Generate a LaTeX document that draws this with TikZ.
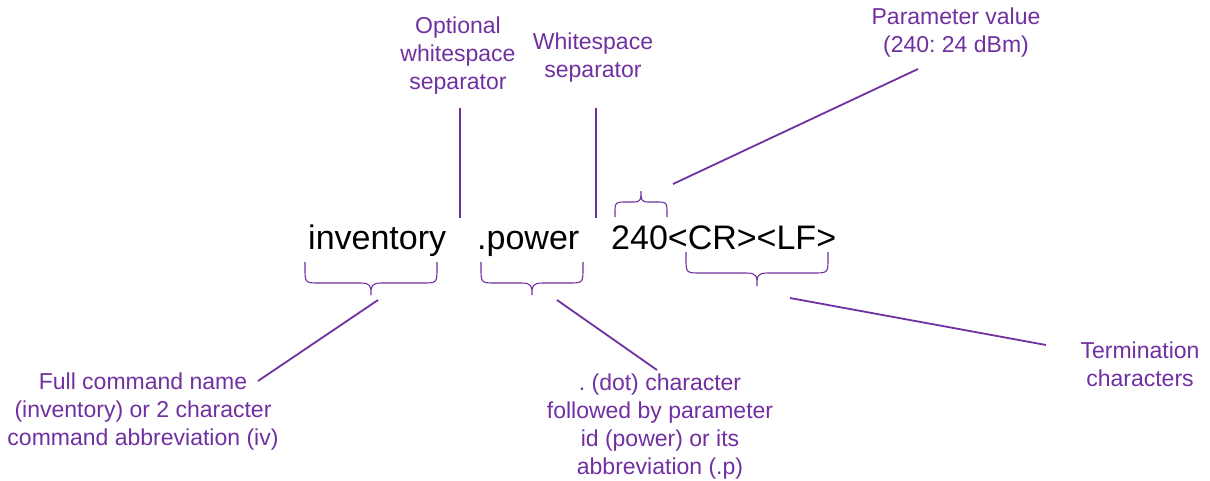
\documentclass[tikz,border=0pt]{standalone}
\usepackage{fontspec}
\setmainfont{Liberation Sans}
\definecolor{purp}{HTML}{7030A0}
\begin{document}
\frenchspacing
\begin{tikzpicture}[x=1pt,y=-1pt,
  maintext/.style={anchor=base west,inner sep=0pt,font=\fontsize{34}{40}\selectfont,text=black},
  lbl/.style={align=center,inner sep=0pt,text=purp,font=\fontsize{23}{28}\selectfont},
  conn/.style={draw=purp,line width=1.8pt},
  bracestyle/.style={draw=purp,line width=1.1pt}]
\useasboundingbox (0,0) rectangle (1210,480);

% main command text
\node[maintext] (inv) at (308,249) {inventory};
\node[maintext] (pow) at (477,249) {.power};
\node[maintext] (val) at (611,249) {240<CR><LF>};

% labels
\node[lbl] (opt) at (458,56) {Optional\\whitespace\\separator};
\node[lbl] (ws) at (593,58) {Whitespace\\separator};
\node[lbl] (pv) at (956,33) {Parameter value\\(240: 24 dBm)};
\node[lbl] (full) at (143,412) {Full command name\\(inventory) or 2 character\\command abbreviation (iv)};
\node[lbl] (dot) at (660,427) {. (dot) character\\followed by parameter\\id (power) or its\\abbreviation (.p)};
\node[lbl] (term) at (1140,364) {Termination\\characters};

% braces under
% inventory brace
\draw[bracestyle] (305,262) -- (305,268) .. controls (305,283) and (305,283) .. (320,283)
  -- (360,283) .. controls (371,283) and (371,286) .. (371,295)
  .. controls (371,286) and (371,283) .. (382,283)
  -- (422,283) .. controls (437,283) and (437,283) .. (437,268) -- (437,262);
% power brace
\draw[bracestyle] (481,262) -- (481,268) .. controls (481,283) and (481,283) .. (496,283)
  -- (521,283) .. controls (532,283) and (532,286) .. (532,295)
  .. controls (532,286) and (532,283) .. (543,283)
  -- (568,283) .. controls (583,283) and (583,283) .. (583,268) -- (583,262);
% CR LF brace
\draw[bracestyle] (686,252) -- (686,258) .. controls (686,273) and (686,273) .. (701,273)
  -- (746,273) .. controls (757,273) and (757,276) .. (757,286)
  .. controls (757,276) and (757,273) .. (768,273)
  -- (813,273) .. controls (828,273) and (828,273) .. (828,258) -- (828,252);
% 240 brace (above)
\draw[bracestyle] (615,217) -- (615,214) .. controls (615,202) and (615,202) .. (627,202)
  -- (634,202) .. controls (641,202) and (641,199) .. (641,191)
  .. controls (641,199) and (641,202) .. (648,202)
  -- (655,202) .. controls (667,202) and (667,202) .. (667,214) -- (667,217);

% connector endpoints
\coordinate (invtip) at (378,300);
\coordinate (fullend) at (258,381);
\coordinate (powtip) at (557,300);
\coordinate (dotend) at (657,370);
\coordinate (crtip) at (790,298);
\coordinate (termend) at (1046,345);
\coordinate (valtip) at (673,184);
\coordinate (pvend) at (918,69);
\coordinate (optbot) at (460,218);
\coordinate (opttop) at (460,108);
\coordinate (wsbot) at (596,218);
\coordinate (wstop) at (596,108);

\draw[conn] (invtip) -- (fullend);
\draw[conn] (powtip) -- (dotend);
\draw[conn] (crtip) -- (termend);
\draw[conn] (valtip) -- (pvend);
\draw[conn] (opttop) -- (optbot);
\draw[conn] (wstop) -- (wsbot);
\end{tikzpicture}
\end{document}
